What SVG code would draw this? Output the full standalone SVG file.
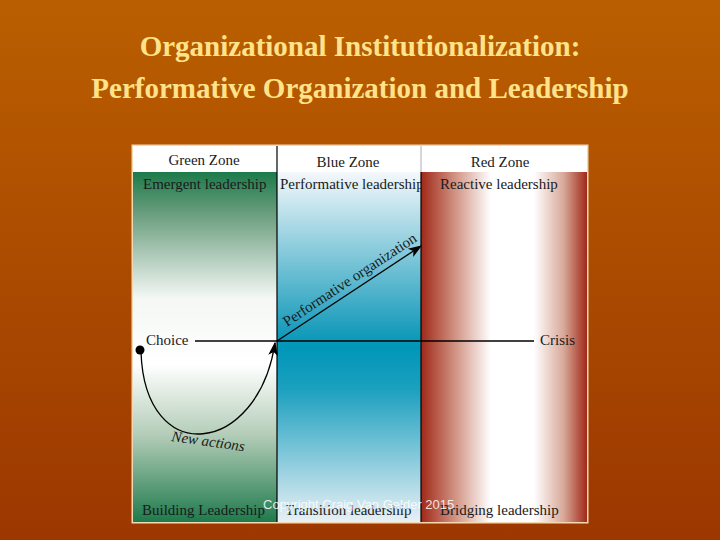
<svg xmlns="http://www.w3.org/2000/svg" width="720" height="540" viewBox="0 0 720 540">
<defs>
<linearGradient id="bg" x1="0" y1="0" x2="0" y2="1">
<stop offset="0" stop-color="#BA5F00"/>
<stop offset="1" stop-color="#9C3700"/>
</linearGradient>
<linearGradient id="gz" x1="0" y1="0" x2="0" y2="1">
<stop offset="0" stop-color="#1C7A4A"/>
<stop offset="0.12" stop-color="#6A9E7E"/>
<stop offset="0.36" stop-color="#F4F7F4"/>
<stop offset="0.55" stop-color="#FFFFFF"/>
<stop offset="0.75" stop-color="#B4CDB8"/>
<stop offset="1" stop-color="#1E7A4C"/>
</linearGradient>
<linearGradient id="bz" x1="0" y1="0" x2="0" y2="1">
<stop offset="0" stop-color="#F4F8FB"/>
<stop offset="0.45" stop-color="#1B9DBC"/>
<stop offset="0.5" stop-color="#0096B8"/>
<stop offset="0.62" stop-color="#1CA0BF"/>
<stop offset="1" stop-color="#E8F0F5"/>
</linearGradient>
<linearGradient id="rz" x1="0" y1="0" x2="1" y2="0">
<stop offset="0" stop-color="#A02818"/>
<stop offset="0.2" stop-color="#D09080"/>
<stop offset="0.42" stop-color="#FFFFFF"/>
<stop offset="0.68" stop-color="#FFFFFF"/>
<stop offset="0.86" stop-color="#D8A898"/>
<stop offset="1" stop-color="#A02818"/>
</linearGradient>
<marker id="ah2" viewBox="0 0 10 10" refX="9" refY="5" markerWidth="14" markerHeight="14" orient="auto" markerUnits="userSpaceOnUse">
<path d="M0,1.5 L10,5 L0,8.5 L2.5,5 Z" fill="#000"/>
</marker>
</defs>
<style>
.t{font-family:"Liberation Serif","Times New Roman",serif;font-size:15px;fill:#1A1A1A}
.title{font-family:"Liberation Serif","Times New Roman",serif;font-weight:bold;font-size:29px;fill:#FFE38A;text-anchor:middle}
.c{text-anchor:middle}
</style>
<rect width="720" height="540" fill="url(#bg)"/>
<text class="title" x="360" y="56">Organizational Institutionalization:</text>
<text class="title" x="360" y="98">Performative Organization and Leadership</text>

<g id="frame">
<rect x="131.5" y="144.5" width="457" height="379" fill="#F4D8B0"/>
</g>
<g id="green-zone">
<rect x="133" y="146" width="144" height="26" fill="#FFFFFF"/>
<rect x="133" y="172" width="144" height="350" fill="url(#gz)"/>
<text class="t c" x="204" y="165">Green Zone</text>
<text class="t" x="143" y="189">Emergent leadership</text>
<text class="t" x="142" y="515">Building Leadership</text>
</g>
<g id="blue-zone">
<rect x="277" y="146" width="144" height="26" fill="#FFFFFF"/>
<rect x="277" y="172" width="144" height="350" fill="url(#bz)"/>
<text class="t c" x="348" y="167">Blue Zone</text>
<text class="t" x="280" y="189" font-size="14.6">Performative leadership</text>
<text class="t" x="285" y="515">Transition leadership</text>
</g>
<g id="red-zone">
<rect x="421" y="146" width="166" height="26" fill="#FFFFFF"/>
<rect x="421" y="172" width="166" height="350" fill="url(#rz)"/>
<text class="t c" x="500" y="167">Red Zone</text>
<text class="t" x="440" y="189">Reactive leadership</text>
<text class="t" x="440" y="515">Bridging leadership</text>
</g>
<g id="dividers" stroke="#000" stroke-width="1.2">
<line x1="277" y1="146" x2="277" y2="522"/>
<line x1="421" y1="172" x2="421" y2="522"/>
<line x1="421" y1="146" x2="421" y2="172" stroke="#999" stroke-width="0.8"/>
</g>
<g id="choice">
<circle cx="140" cy="350" r="4.5" fill="#000"/>
<text class="t" x="146" y="345">Choice</text>
</g>
<g id="crisis">
<text class="t" x="540" y="345">Crisis</text>
</g>
<g id="connectors" fill="none" stroke="#000" stroke-width="1.3">
<line x1="195" y1="341" x2="534" y2="341"/>
<path d="M141,352 C145,470 258,455 275,343" marker-end="url(#ah2)"/>
<line x1="277" y1="341" x2="421" y2="246" marker-end="url(#ah2)"/>
</g>
<g id="labels">
<text class="t" x="0" y="0" transform="translate(287,327) rotate(-33.4)" font-size="16">Performative organization</text>
<text class="t" x="0" y="0" transform="translate(171,441) rotate(8)" font-style="italic">New actions</text>
</g>
<text x="263" y="509" font-family="Liberation Sans, Arial, sans-serif" font-size="13" fill="#FFFFFF" fill-opacity="0.85">Copyright Craig Van Gelder 2015</text>
</svg>
